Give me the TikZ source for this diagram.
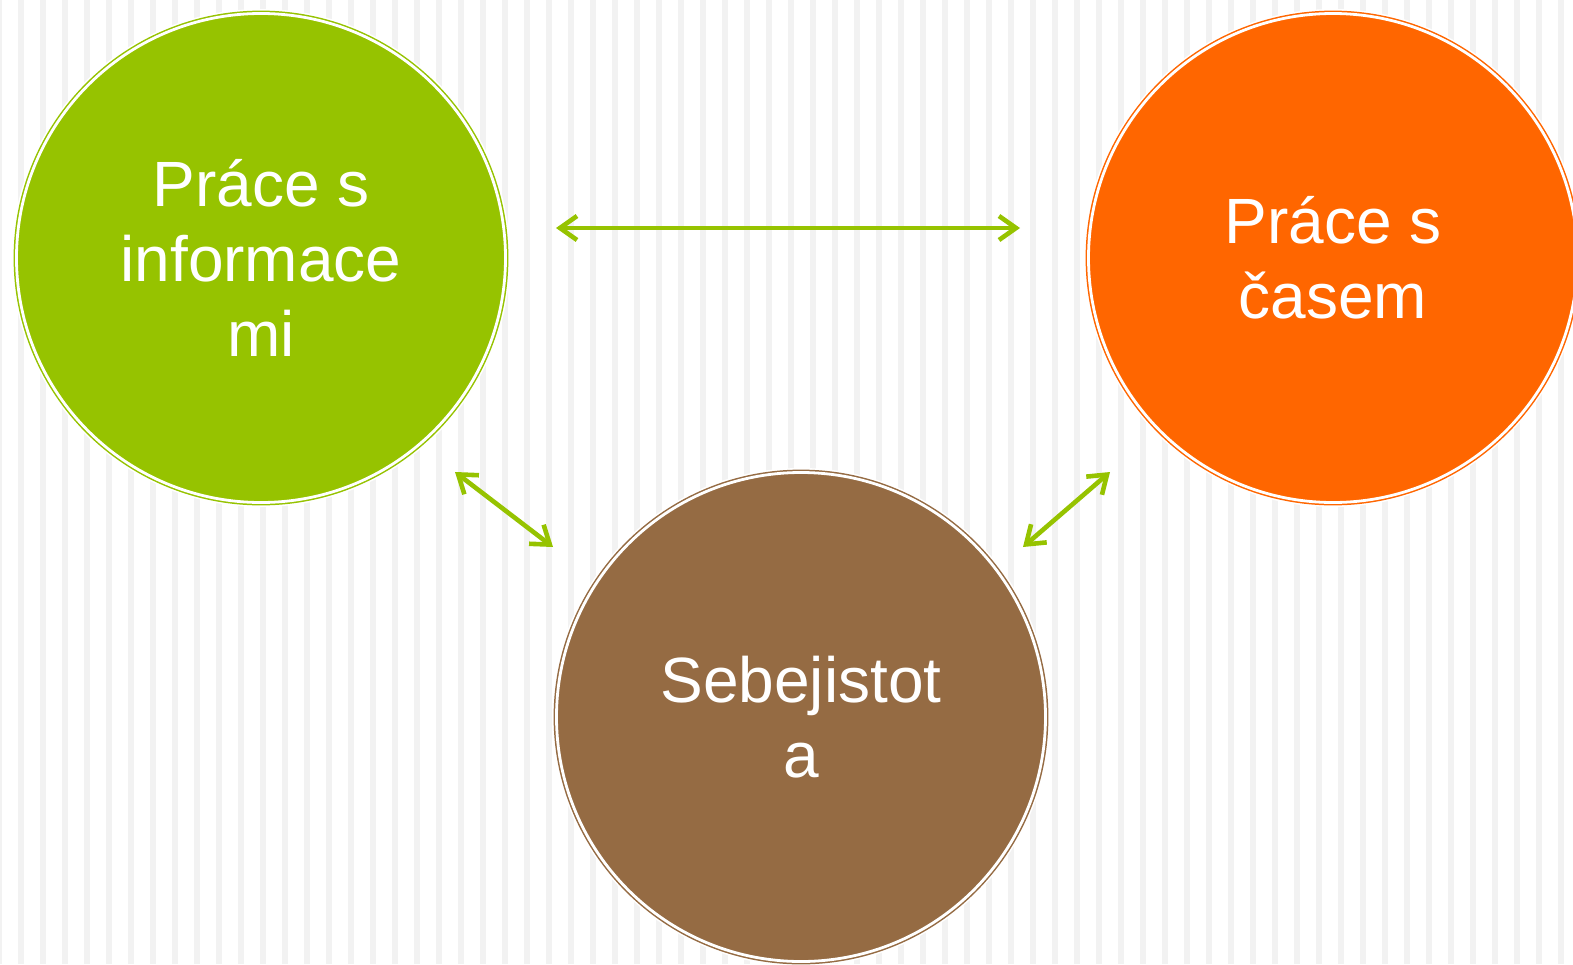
\documentclass[tikz,border=0pt]{standalone}
\usepackage{fontspec}
\setmainfont{Liberation Sans}
\usetikzlibrary{arrows.meta}
\definecolor{stripegray}{HTML}{F2F2F2}
\definecolor{leafgreen}{HTML}{96C300}
\definecolor{sunorange}{HTML}{FF6600}
\definecolor{earthbrown}{HTML}{956B43}
\tikzset{
  bubble/.style={circle, minimum size=489pt, inner sep=0pt,
    fill=#1, draw=#1, line width=1.5pt, double=white, double distance=2.8pt,
    preaction={draw=white, line width=9pt},
    text=white, align=center, font=\fontsize{64}{75}\selectfont},
  link/.style={leafgreen, line width=4.6pt,
    {Straight Barb[length=17pt,width=24pt]}-{Straight Barb[length=17pt,width=24pt]}}
}
\begin{document}
\begin{tikzpicture}[x=1pt,y=-1pt]
\useasboundingbox (0,0) rectangle (1573,964);
\begin{scope}
  \clip (0,0) rectangle (1573,964);
  \fill[white] (0,0) rectangle (1573,964);
  % vertical pinstripes
  \foreach \i in {0,...,72}
    \fill[stripegray] ({-4+22*\i},0) rectangle ++(6,964);
  % the three topic circles
  \node[bubble=leafgreen] (info) at (261,258) {Práce s\\informace\\mi};
  \node[bubble=sunorange] (time) at (1333,258) {Práce s\\časem};
  \node[bubble=earthbrown] (self) at (801,717) {Sebejistot\\a};
\end{scope}
% free ends of the connectors
\coordinate (infoR) at (556,228);
\coordinate (timeL) at (1020,228);
\coordinate (infoB) at (455,472);
\coordinate (selfL) at (553,547);
\coordinate (timeB) at (1110,472);
\coordinate (selfR) at (1023,547);
\draw[link] (infoR) -- (timeL);
\draw[link] (infoB) -- (selfL);
\draw[link] (timeB) -- (selfR);
\end{tikzpicture}
\end{document}
